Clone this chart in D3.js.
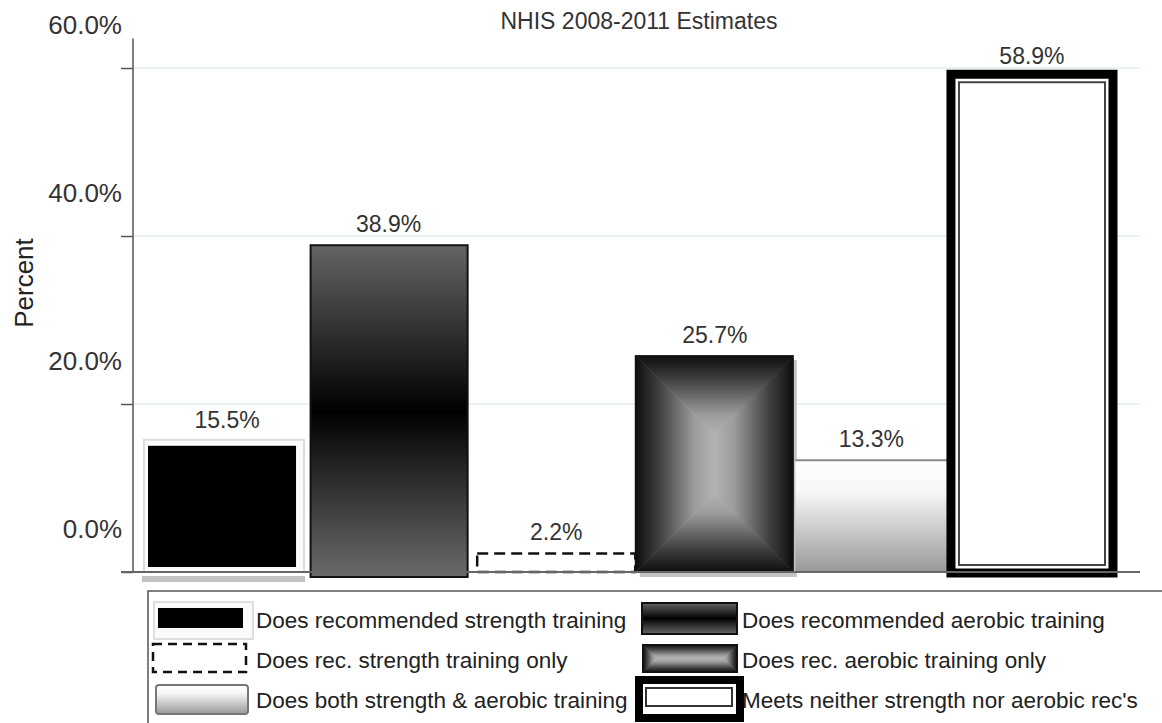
<!DOCTYPE html>
<html>
<head>
<meta charset="utf-8">
<script src="https://cdn.jsdelivr.net/npm/d3@7"></script>
<style>
	body { margin: 0; background: #fff; }
	svg { display: block; font-family: 'Liberation Sans', Arial, sans-serif; }
</style>
</head>
<body>
<div id="chart"></div>
<script>
const title = 'NHIS 2008-2011 Estimates';
const yName = 'Percent';
const categories = [
	'Does recommended strength training',
	'Does recommended aerobic training',
	'Does rec. strength training only',
	'Does rec. aerobic training only',
	'Does both strength & aerobic training',
	"Meets neither strength nor aerobic rec's"
];
const values = [15.5, 38.9, 2.2, 25.7, 13.3, 58.9];
const yTicks = [0, 20, 40, 60];
const yAxisTop = 63.5;

// fill look of each category, same order as categories
const kinds = ['solid', 'band', 'dashed', 'pillow', 'fade', 'double'];

const width = 1162;
const height = 723;
const axisX = 133;
const gridRight = 1140;

let svg = d3.select('#chart').append('svg')
	.attr('width', width)
	.attr('height', height);

let defs = svg.append('defs');
function linGrad(id, x1, y1, x2, y2, stops) {
	let g = defs.append('linearGradient').attr('id', id)
		.attr('x1', x1).attr('y1', y1).attr('x2', x2).attr('y2', y2);
	stops.forEach(s => g.append('stop').attr('offset', s[0]).attr('stop-color', s[1]));
}
linGrad('bandGrad', 0, 0, 0, 1, [[0, '#646464'], [0.5, '#000'], [1, '#6a6a6a']]);
linGrad('fadeGrad', 0, 0, 0, 1, [[0, '#fff'], [0.28, '#f7f7f7'], [1, '#999']]);
// rectangle ("pillow") gradient: dark edge -> light centre, one per side
const pStops = [[0, '#0e0e0e'], [0.3, '#404040'], [0.75, '#9c9c9c'], [1, '#b2b2b2']];
linGrad('pTop', 0, 0, 0, 1, pStops);
linGrad('pBottom', 0, 1, 0, 0, pStops);
linGrad('pLeft', 0, 0, 1, 0, pStops);
linGrad('pRight', 1, 0, 0, 0, pStops);

let xScale = d3.scaleBand()
	.domain(categories)
	.range([148, 1114])
	.paddingInner(0.022);
let yScale = d3.scaleLinear()
	.domain([0, 60])
	.range([572, 68]);

function pillow(g, x, y, w, h) {
	let m = Math.min(w, h) / 2;
	let x1 = x + w, y1 = y + h;
	let ix0 = x + m, ix1 = x1 - m, iy0 = y + m, iy1 = y1 - m;
	let parts = [
		['pTop', [[x, y], [x1, y], [ix1, iy0], [ix0, iy0]]],
		['pRight', [[x1, y], [x1, y1], [ix1, iy1], [ix1, iy0]]],
		['pBottom', [[x1, y1], [x, y1], [ix0, iy1], [ix1, iy1]]],
		['pLeft', [[x, y1], [x, y], [ix0, iy0], [ix0, iy1]]]
	];
	parts.forEach(p => {
		g.append('polygon')
			.attr('points', p[1].map(d => d.join(',')).join(' '))
			.attr('fill', `url(#${p[0]})`)
			.attr('stroke', `url(#${p[0]})`)
			.attr('stroke-width', 0.6);
	});
	g.append('rect').attr('x', x).attr('y', y).attr('width', w).attr('height', h)
		.attr('fill', 'none').attr('stroke', '#111').attr('stroke-width', 2);
}

// title
svg.append('text')
	.attr('x', 639).attr('y', 29)
	.attr('text-anchor', 'middle')
	.attr('font-size', 23)
	.attr('fill', '#333')
	.text(title);

// grid
svg.append('g').attr('class', 'grid')
	.selectAll('line')
	.data(yTicks.filter(d => d > 0))
	.join('line')
	.attr('x1', axisX).attr('x2', gridRight)
	.attr('y1', d => yScale(d)).attr('y2', d => yScale(d))
	.attr('stroke', '#e3ecec')
	.attr('stroke-width', 1.5);

// bars
let barsG = svg.append('g').attr('class', 'bars');
let labelPos = [];
categories.forEach((c, i) => {
	let x = xScale(c), w = xScale.bandwidth();
	let y = yScale(values[i]), y0 = yScale(0), h = y0 - y;
	let g = barsG.append('g');
	let cx = x + w / 2;
	switch (kinds[i]) {
	case 'solid':
		g.append('rect').attr('x', x - 6).attr('y', y0 + 4).attr('width', w + 5).attr('height', 6)
			.attr('fill', '#c2c2c2');
		g.append('rect').attr('x', x - 4).attr('y', y - 2).attr('width', w + 2).attr('height', h + 2)
			.attr('fill', '#fbfbfb').attr('stroke', '#dcdcdc').attr('stroke-width', 2);
		g.append('rect').attr('x', x).attr('y', y + 4).attr('width', w - 10).attr('height', h - 9)
			.attr('fill', '#000');
		break;
	case 'band':
		g.append('rect').attr('x', x + 1).attr('y', y).attr('width', w - 1).attr('height', h + 5)
			.attr('fill', 'url(#bandGrad)').attr('stroke', '#111').attr('stroke-width', 2);
		break;
	case 'dashed':
		g.append('rect').attr('x', x + 6).attr('y', y).attr('width', w).attr('height', h)
			.attr('fill', '#fff').attr('stroke', '#111').attr('stroke-width', 2.5)
			.attr('stroke-dasharray', '11,6');
		cx = x + 6 + w / 2;
		break;
	case 'pillow':
		g.append('rect').attr('x', x + 7).attr('y', y + 4).attr('width', w - 1).attr('height', h + 1)
			.attr('fill', '#c4c4c4');
		pillow(g, x + 3, y, w - 1, h);
		cx = x + 3 + w / 2;
		break;
	case 'fade':
		g.append('rect').attr('x', x + 1).attr('y', y).attr('width', w - 5).attr('height', h)
			.attr('fill', 'url(#fadeGrad)');
		g.append('line').attr('x1', x + 1).attr('x2', x + w - 4).attr('y1', y).attr('y2', y)
			.attr('stroke', '#888').attr('stroke-width', 2);
		cx = x + w / 2 - 2;
		break;
	case 'double':
		g.append('rect').attr('x', x - 5).attr('y', y - 3).attr('width', w + 4).attr('height', h + 4)
			.attr('fill', '#fff').attr('stroke', '#000').attr('stroke-width', 9);
		g.append('rect').attr('x', x + 3).attr('y', y + 5).attr('width', w - 12).attr('height', h - 12)
			.attr('fill', 'none').attr('stroke', '#444').attr('stroke-width', 2);
		cx = x - 5 + (w + 4) / 2;
		break;
	}
	labelPos.push([cx, y]);
});

// value labels
svg.append('g').attr('class', 'labels')
	.selectAll('text')
	.data(values)
	.join('text')
	.attr('x', (d, i) => labelPos[i][0])
	.attr('y', (d, i) => labelPos[i][1] - 13.5)
	.attr('text-anchor', 'middle')
	.attr('font-size', 23)
	.attr('fill', '#333')
	.text(d => d.toFixed(1) + '%');

// y axis
let yAxis = d3.axisLeft(yScale)
	.tickValues(yTicks)
	.tickSize(12)
	.tickSizeOuter(0)
	.tickFormat(d => d.toFixed(1) + '%');
let gY = svg.append('g')
	.attr('class', 'y axis')
	.attr('transform', `translate(${axisX},0)`)
	.call(yAxis);
gY.select('.domain').remove();
gY.selectAll('.tick line').attr('stroke', '#555').attr('stroke-width', 1.5);
gY.selectAll('.tick text')
	.attr('x', -11)
	.attr('y', -35)
	.attr('dy', null)
	.attr('font-size', 26)
	.attr('font-family', null)
	.attr('fill', '#333');
svg.append('line')
	.attr('x1', axisX).attr('x2', axisX)
	.attr('y1', yScale(0)).attr('y2', yScale(yAxisTop))
	.attr('stroke', '#555').attr('stroke-width', 1.5);
svg.append('line')
	.attr('x1', axisX - 12).attr('x2', gridRight)
	.attr('y1', yScale(0)).attr('y2', yScale(0))
	.attr('stroke', '#666').attr('stroke-width', 2);

svg.append('text')
	.attr('transform', 'translate(33,283) rotate(-90)')
	.attr('text-anchor', 'middle')
	.attr('font-size', 26)
	.attr('fill', '#222')
	.text(yName);

// legend: 3 rows x 2 columns, filled row by row
let legend = svg.append('g').attr('class', 'legend');
legend.append('rect')
	.attr('x', 148).attr('y', 591)
	.attr('width', width).attr('height', 200)
	.attr('fill', '#fff').attr('stroke', '#555').attr('stroke-width', 1.5);
const colX = [155, 641];
categories.forEach((c, i) => {
	let x = colX[i % 2];
	let cy = 618 + Math.floor(i / 2) * 40;
	let g = legend.append('g');
	switch (kinds[i]) {
	case 'solid':
		g.append('rect').attr('x', x - 1).attr('y', cy - 16).attr('width', 99).attr('height', 37)
			.attr('fill', '#fafafa').attr('stroke', '#dedede').attr('stroke-width', 2);
		g.append('rect').attr('x', x + 3).attr('y', cy - 10).attr('width', 85).attr('height', 20)
			.attr('fill', '#000');
		break;
	case 'band':
		g.append('rect').attr('x', x + 1).attr('y', cy - 15).attr('width', 95).attr('height', 31)
			.attr('fill', 'url(#bandGrad)').attr('stroke', '#111').attr('stroke-width', 2);
		break;
	case 'dashed':
		g.append('rect').attr('x', x - 2).attr('y', cy - 14).attr('width', 93).attr('height', 28)
			.attr('fill', '#fff').attr('stroke', '#111').attr('stroke-width', 2.5)
			.attr('stroke-dasharray', '9,6');
		break;
	case 'pillow':
		pillow(g, x + 2, cy - 13, 94, 27);
		break;
	case 'fade':
		g.append('rect').attr('x', x + 1).attr('y', cy - 13).attr('width', 92).attr('height', 29)
			.attr('rx', 3)
			.attr('fill', 'url(#fadeGrad)').attr('stroke', '#777').attr('stroke-width', 2);
		break;
	case 'double':
		g.append('rect').attr('x', x - 2).attr('y', cy - 18).attr('width', 101).attr('height', 38)
			.attr('fill', '#fff').attr('stroke', '#000').attr('stroke-width', 8);
		g.append('rect').attr('x', x + 5).attr('y', cy - 10).attr('width', 86).attr('height', 18)
			.attr('fill', 'none').attr('stroke', '#333').attr('stroke-width', 2);
		break;
	}
	g.append('text')
		.attr('x', x + 101)
		.attr('y', cy + 10)
		.attr('font-size', 22.5)
		.attr('fill', '#222')
		.text(c);
});
</script>
</body>
</html>
